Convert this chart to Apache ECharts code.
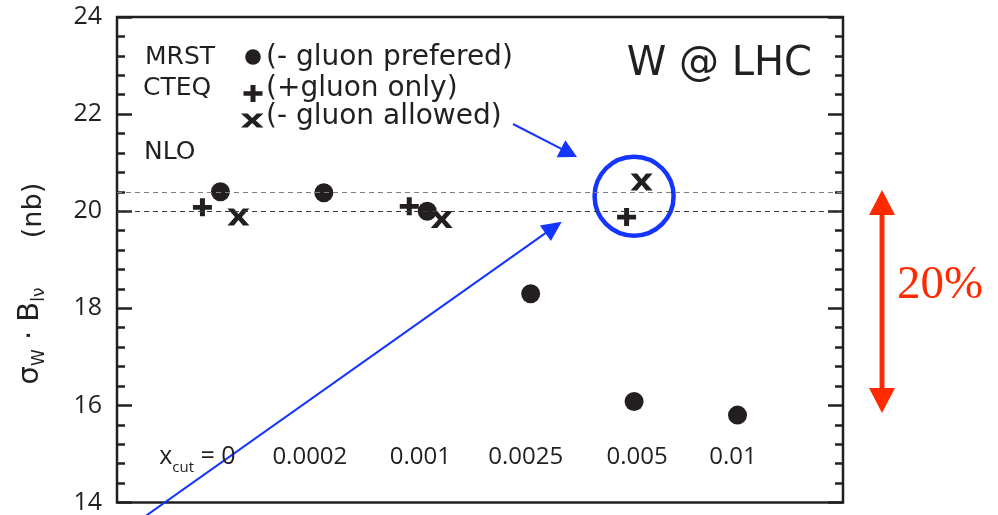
<!DOCTYPE html>
<html>
<head>
<meta charset="utf-8">
<script src="https://cdn.jsdelivr.net/npm/echarts@6/dist/echarts.min.js"></script>
<style>
  html, body { margin: 0; padding: 0; background: #ffffff; }
  #chart { width: 998px; height: 515px; }
</style>
</head>
<body>
<div id="chart"></div>
<script>
// ---- data ----
const categories = ['x_cut = 0', '0.0002', '0.001', '0.0025', '0.005', '0.01'];
const mrst = [20.40, 20.38, 20.00, 18.30, 16.08, 15.80];           // (- gluon prefered)
const cteqPlusGluon = [20.08, null, 20.10, null, 19.88, null];     // (+gluon only)
const cteqMinusGluon = [19.88, null, 19.83, null, 20.60, null];    // (- gluon allowed)
const nloBand = [20.4, 20.0];
const yTicks = [14, 16, 18, 20, 22, 24];
const highlighted = [4, 20.31];

// ---- styling ----
const INK = '#231f20';
const BLUE = '#1434ff';
const RED = '#ff2a00';
const SANS = 'DejaVu Sans';
const TICKFONT = 'Open Sans';
const plusShift = [-18, 0, -18, 0, -7.5, 0];
const crossShift = [18, 0, 14.5, 0, 7.5, 0];
const labelNudge = [-23, -14, -7, -5, 3, -4.5];

// marker outlines in their own box coordinates
const PLUS_PTS = [[7,0],[12,0],[12,7],[19,7],[19,12],[12,12],[12,19],[7,19],[7,12],[0,12],[0,7],[7,7]];
const PLUS_BOX = [19, 19];
const CROSS_PTS = [[0,0],[6.5,0],[11,5.5],[15.5,0],[22,0],[14.5,8.5],[22,17],[15.5,17],[11,11.5],[6.5,17],[0,17],[7.5,8.5]];
const CROSS_BOX = [22, 17];

function toPath(pts) {
  return 'path://M' + pts.map(p => p[0] + ',' + p[1]).join('L') + 'Z';
}
const PLUS_PATH = toPath(PLUS_PTS);
const CROSS_PATH = toPath(CROSS_PTS);

function glyph(pts, box, x, y, w, h) {
  return { type: 'polygon', silent: true,
    shape: { points: pts.map(p => [x + p[0] / box[0] * w, y + p[1] / box[1] * h]) },
    style: { fill: INK } };
}

function points(values, shift) {
  const out = [];
  values.forEach((v, i) => {
    if (v == null) return;
    const item = { value: [i, v] };
    if (shift) item.symbolOffset = [shift[i], 0];
    out.push(item);
  });
  return out;
}

// x-axis label rich styles (with per-label padding tokens)
const xRich = {
  t: { fontFamily: TICKFONT, fontSize: 24, color: INK, lineHeight: 30 },
  t0: { fontFamily: TICKFONT, fontSize: 25, color: INK, lineHeight: 37 },
  s: { fontFamily: TICKFONT, fontSize: 15, color: INK, lineHeight: 15, verticalAlign: 'bottom' }
};
labelNudge.forEach((n, i) => { xRich['pad' + i] = { width: Math.abs(2 * n), lineHeight: 10 }; });

function xLabel(v) {
  const i = Math.round(v);
  if (Math.abs(v - i) > 1e-6 || i < 0 || i >= categories.length) return '';
  let body;
  if (i === 0) {
    const parts = categories[0].split('_');          // x, cut = 0
    const sub = parts[1].split(' ')[0];
    const rest = parts[1].slice(sub.length);
    body = '{t0|' + parts[0] + '}{s|' + sub + '}{t0|' + rest + '}';
  } else {
    body = '{t|' + categories[i] + '}';
  }
  const pad = '{pad' + i + '|}';
  return labelNudge[i] < 0 ? body + pad : pad + body;
}

function arrow(x1, y1, x2, y2, headLen, headW, color, lineW) {
  const dx = x2 - x1, dy = y2 - y1, L = Math.hypot(dx, dy);
  const ux = dx / L, uy = dy / L, px = -uy, py = ux;
  const bx = x2 - ux * headLen, by = y2 - uy * headLen;
  return [
    { type: 'line', silent: true, shape: { x1: x1, y1: y1, x2: bx + ux, y2: by + uy },
      style: { stroke: color, lineWidth: lineW } },
    { type: 'polygon', silent: true,
      shape: { points: [[x2, y2], [bx + px * headW / 2, by + py * headW / 2], [bx - px * headW / 2, by - py * headW / 2]] },
      style: { fill: color } }
  ];
}

function text(str, x, y, opts) {
  return { type: 'text', silent: true, x: x, y: y,
    style: Object.assign({ text: str, fill: INK, font: '25px "' + SANS + '"', align: 'left', verticalAlign: 'middle' }, opts || {}) };
}

const chart = echarts.init(document.getElementById('chart'), null, { renderer: 'canvas' });

const yAxisBase = {
  type: 'value',
  min: yTicks[0],
  max: yTicks[yTicks.length - 1],
  interval: yTicks[1] - yTicks[0],
  axisLine: { show: false, onZero: false },
  axisTick: { show: true, inside: true, length: 15, lineStyle: { color: INK, width: 2.5 } },
  minorTick: { show: true, splitNumber: 5, length: 8, lineStyle: { color: INK, width: 2.5 } },
  splitLine: { show: false },
  minorSplitLine: { show: false }
};

const legendFont = '28px "' + SANS + '"';

const graphics = [
  // legend block
  text('MRST', 145, 57),
  { type: 'circle', silent: true, shape: { cx: 253, cy: 57, r: 7.8 }, style: { fill: INK } },
  text('(- gluon prefered)', 266, 58, { font: legendFont }),
  text('CTEQ', 143, 88),
  glyph(PLUS_PTS, PLUS_BOX, 243.5, 85, 19, 17),
  text('(+gluon only)', 266, 89, { font: legendFont }),
  glyph(CROSS_PTS, CROSS_BOX, 241, 113.5, 22.5, 14),
  text('(- gluon allowed)', 266, 117, { font: legendFont }),
  text('NLO', 144, 152),
  // title
  text('W @ LHC', 812, 65, { align: 'right', font: '40px "' + SANS + '"' }),
  // axis name
  { type: 'text', silent: true, x: 30, y: 336, rotation: Math.PI / 2,
    style: { text: '{m|σ}{s|W}{m| · B}{s|lν}', align: 'center', verticalAlign: 'middle',
      rich: {
        m: { fontFamily: SANS, fontSize: 29, fill: INK, lineHeight: 36 },
        s: { fontFamily: SANS, fontSize: 17, fill: INK, lineHeight: 17, verticalAlign: 'bottom' }
      } } },
  { type: 'text', silent: true, x: 34, y: 210.5, rotation: Math.PI / 2,
    style: { text: '(nb)', fill: INK, font: '27px "' + SANS + '"', align: 'center', verticalAlign: 'middle' } },
  // 20% span
  text('20%', 897, 286, { fill: RED, font: '47px "Liberation Serif"' })
]
  .concat(arrow(882, 390, 882, 190, 25, 26, RED, 4.5))
  .concat(arrow(882, 215, 882, 413, 25, 26, RED, 4.5))
  .concat(arrow(513, 124, 577, 157, 18, 19, BLUE, 2))
  .concat(arrow(140, 520, 561.7, 221.7, 20, 19, BLUE, 2));

chart.setOption({
  animation: false,
  backgroundColor: '#ffffff',
  grid: { left: 117, right: 155, top: 17, bottom: 12, show: true, borderColor: INK, borderWidth: 2.5, backgroundColor: 'transparent' },
  xAxis: {
    type: 'value',
    min: -1,
    max: 6.02,
    interval: 1,
    axisLine: { show: false, onZero: false },
    axisTick: { show: false },
    splitLine: { show: false },
    axisLabel: {
      show: true,
      margin: -45.5,
      verticalAlign: 'middle',
      showMinLabel: true,
      showMaxLabel: true,
      color: INK,
      fontFamily: TICKFONT,
      fontSize: 24,
      formatter: xLabel,
      rich: xRich
    }
  },
  yAxis: [
    Object.assign({}, yAxisBase, {
      position: 'left',
      axisLabel: { show: true, margin: 15, color: INK, fontFamily: TICKFONT, fontSize: 25 }
    }),
    Object.assign({}, yAxisBase, {
      position: 'right',
      axisLabel: { show: false }
    })
  ],
  series: [
    {
      name: 'MRST',
      type: 'scatter',
      data: points(mrst),
      symbol: 'circle',
      symbolSize: 19,
      itemStyle: { color: INK, opacity: 1 },
      emphasis: { disabled: true },
      markLine: {
        silent: true,
        symbol: ['none', 'none'],
        label: { show: false },
        emphasis: { disabled: true },
        lineStyle: { type: [5, 4], width: 1 },
        data: [
          { yAxis: nloBand[0], lineStyle: { color: '#808080', type: [5, 4], width: 1, opacity: 1 } },
          { yAxis: nloBand[1], lineStyle: { color: '#3a3a3a', type: [5, 4], width: 1, opacity: 1 } }
        ]
      },
      z: 3
    },
    {
      name: 'CTEQ +gluon',
      type: 'scatter',
      data: points(cteqPlusGluon, plusShift),
      symbol: PLUS_PATH,
      symbolSize: [19, 18],
      itemStyle: { color: INK, opacity: 1 },
      emphasis: { disabled: true },
      z: 3
    },
    {
      name: 'CTEQ -gluon',
      type: 'scatter',
      data: points(cteqMinusGluon, crossShift),
      symbol: CROSS_PATH,
      symbolSize: [22, 17],
      itemStyle: { color: INK, opacity: 1 },
      emphasis: { disabled: true },
      z: 3
    },
    {
      name: 'highlight',
      type: 'scatter',
      data: [highlighted],
      symbol: 'circle',
      symbolSize: 79,
      itemStyle: { color: 'rgba(0,0,0,0)', borderColor: BLUE, borderWidth: 4.5, opacity: 1 },
      emphasis: { disabled: true },
      silent: true,
      z: 4
    }
  ],
  graphic: { elements: graphics }
});
</script>
</body>
</html>
